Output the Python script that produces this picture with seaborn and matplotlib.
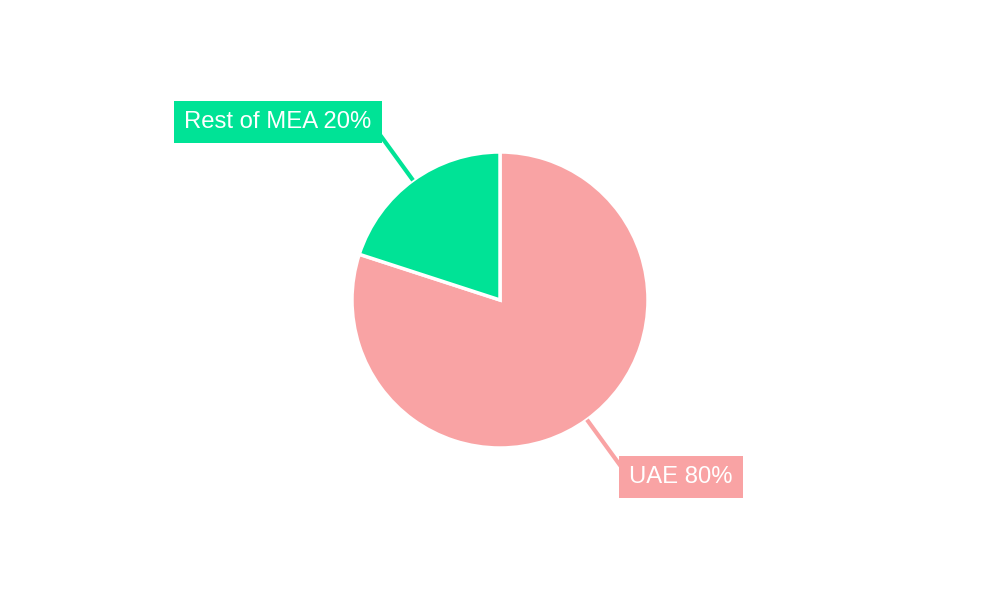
import numpy as np
import matplotlib
matplotlib.use('Agg')
import matplotlib.pyplot as plt
import seaborn as sns

# data
regions = ['UAE', 'Rest of MEA']
shares = [80, 20]
colors = ['#F9A3A4', '#00E396']

sns.set_theme(style='white')
plt.rcParams['font.family'] = ['Liberation Sans', 'DejaVu Sans']

fig = plt.figure(figsize=(10, 6), dpi=100)
ax = fig.add_axes([0, 0, 1, 1])

cx, cy, r = 500, 300, 148
wedges, _ = ax.pie(shares, colors=colors, startangle=90, counterclock=False,
                   center=(cx, cy), radius=r,
                   wedgeprops=dict(edgecolor='white', linewidth=2.5))

# pie() sets its own limits, so fix the pixel-like frame afterwards
ax.set_xlim(0, 1000)
ax.set_ylim(0, 600)
ax.set_aspect('equal')
ax.axis('off')

# label box offsets relative to end of leader line (layout only)
offsets = {'UAE': (60, -10.5), 'Rest of MEA': (-101, 11.5)}
for w, name, val, col in zip(wedges, regions, shares, colors):
    ang = np.deg2rad((w.theta1 + w.theta2) / 2)
    x0, y0 = cx + r * np.cos(ang), cy + r * np.sin(ang)
    x1, y1 = cx + (r + 58) * np.cos(ang), cy + (r + 58) * np.sin(ang)
    ax.plot([x0, x1], [y0, y1], color=col, lw=3, solid_capstyle='butt')
    dx, dy = offsets[name]
    ax.text(x1 + dx, y1 + dy, f'{name} {val}%', color='white', fontsize=17.2,
            ha='center', va='center',
            bbox=dict(boxstyle='square,pad=0.42', fc=col, ec='none'))

fig.savefig('out.png', dpi=100, facecolor='white')
